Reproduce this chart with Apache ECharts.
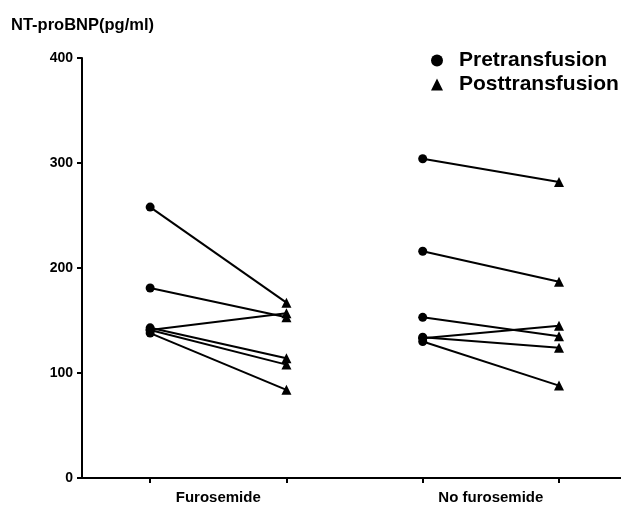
<!DOCTYPE html>
<html>
<head>
<meta charset="utf-8">
<script src="https://cdn.jsdelivr.net/npm/echarts@6/dist/echarts.min.js"></script>
<style>
html,body{margin:0;padding:0;background:#fff;}
#c{width:621px;height:506px;}
</style>
</head>
<body>
<div id="c"></div>
<script>
// Data
const groups = ['Furosemide', 'No furosemide'];
const furoPre  = [258, 181, 141, 143, 141, 138];
const furoPost = [167, 153, 157, 114, 108, 84];
const noPre    = [304, 216, 153, 133, 134, 130];
const noPost   = [282, 187, 135, 145, 124, 88];
const yTicks = [0, 100, 200, 300, 400];
const seriesNames = ['Pretransfusion', 'Posttransfusion'];
const yTitle = 'NT-proBNP(pg/ml)';

// x positions: 1 = Furosemide pre, 2 = Furosemide post, 3 = No furosemide pre, 4 = No furosemide post
const FONT = '"Liberation Sans", Arial, sans-serif';
const series = [];
function addLines(pre, post, xPre, xPost) {
  for (let i = 0; i < pre.length; i++) {
    series.push({
      type: 'line', symbol: 'none', silent: true,
      lineStyle: { color: '#000', width: 2 },
      data: [[xPre, pre[i]], [xPost, post[i]]],
      z: 2
    });
  }
}
addLines(furoPre, furoPost, 1, 2);
addLines(noPre, noPost, 3, 4);
series.push({
  name: seriesNames[0], type: 'scatter', symbol: 'circle', symbolSize: 9,
  itemStyle: { color: '#000', opacity: 1 }, z: 3,
  data: furoPre.map(v => [1, v]).concat(noPre.map(v => [3, v]))
});
series.push({
  name: seriesNames[1], type: 'scatter', symbol: 'triangle', symbolSize: 10,
  itemStyle: { color: '#000', opacity: 1 }, z: 3,
  data: furoPost.map(v => [2, v]).concat(noPost.map(v => [4, v]))
});

const chart = echarts.init(document.getElementById('c'));
chart.setOption({
  animation: false,
  backgroundColor: '#fff',
  title: {
    text: yTitle, left: 6, top: 12,
    textStyle: { fontFamily: FONT, fontSize: 16.5, fontWeight: 'bold', color: '#000' }
  },
  legend: {
    data: [
      { name: seriesNames[0], icon: 'circle', itemStyle: { color: '#000', opacity: 1 } },
      { name: seriesNames[1], icon: 'triangle', itemStyle: { color: '#000', opacity: 1 } }
    ],
    orient: 'vertical', left: 431, top: 50, padding: 0,
    itemWidth: 12, itemHeight: 12, itemGap: 3,
    textStyle: { fontFamily: FONT, fontSize: 21, fontWeight: 'bold', color: '#000', padding: [0, 0, 0, 11] }
  },
  grid: { left: 82, right: 0, top: 58, bottom: 28, containLabel: false },
  xAxis: {
    type: 'value', min: 0.5, max: 4.455,
    splitLine: { show: false },
    axisLine: { show: true, onZero: false, lineStyle: { color: '#000', width: 2 } },
    axisTick: { show: true, customValues: [1, 2, 3, 4], length: 5, lineStyle: { color: '#000', width: 2 } },
    axisLabel: {
      customValues: [1.5, 3.5], margin: 12,
      formatter: v => (v < 2.5 ? groups[0] : groups[1]),
      fontFamily: FONT, fontSize: 15, fontWeight: 'bold', color: '#000'
    }
  },
  yAxis: {
    type: 'value', min: yTicks[0], max: yTicks[yTicks.length - 1], interval: 100,
    splitLine: { show: false },
    axisLine: { show: true, lineStyle: { color: '#000', width: 2 } },
    axisTick: { show: true, length: 5, lineStyle: { color: '#000', width: 2 } },
    axisLabel: { margin: 9, fontFamily: FONT, fontSize: 14, fontWeight: 'bold', color: '#000' }
  },
  series: series
});
</script>
</body>
</html>
